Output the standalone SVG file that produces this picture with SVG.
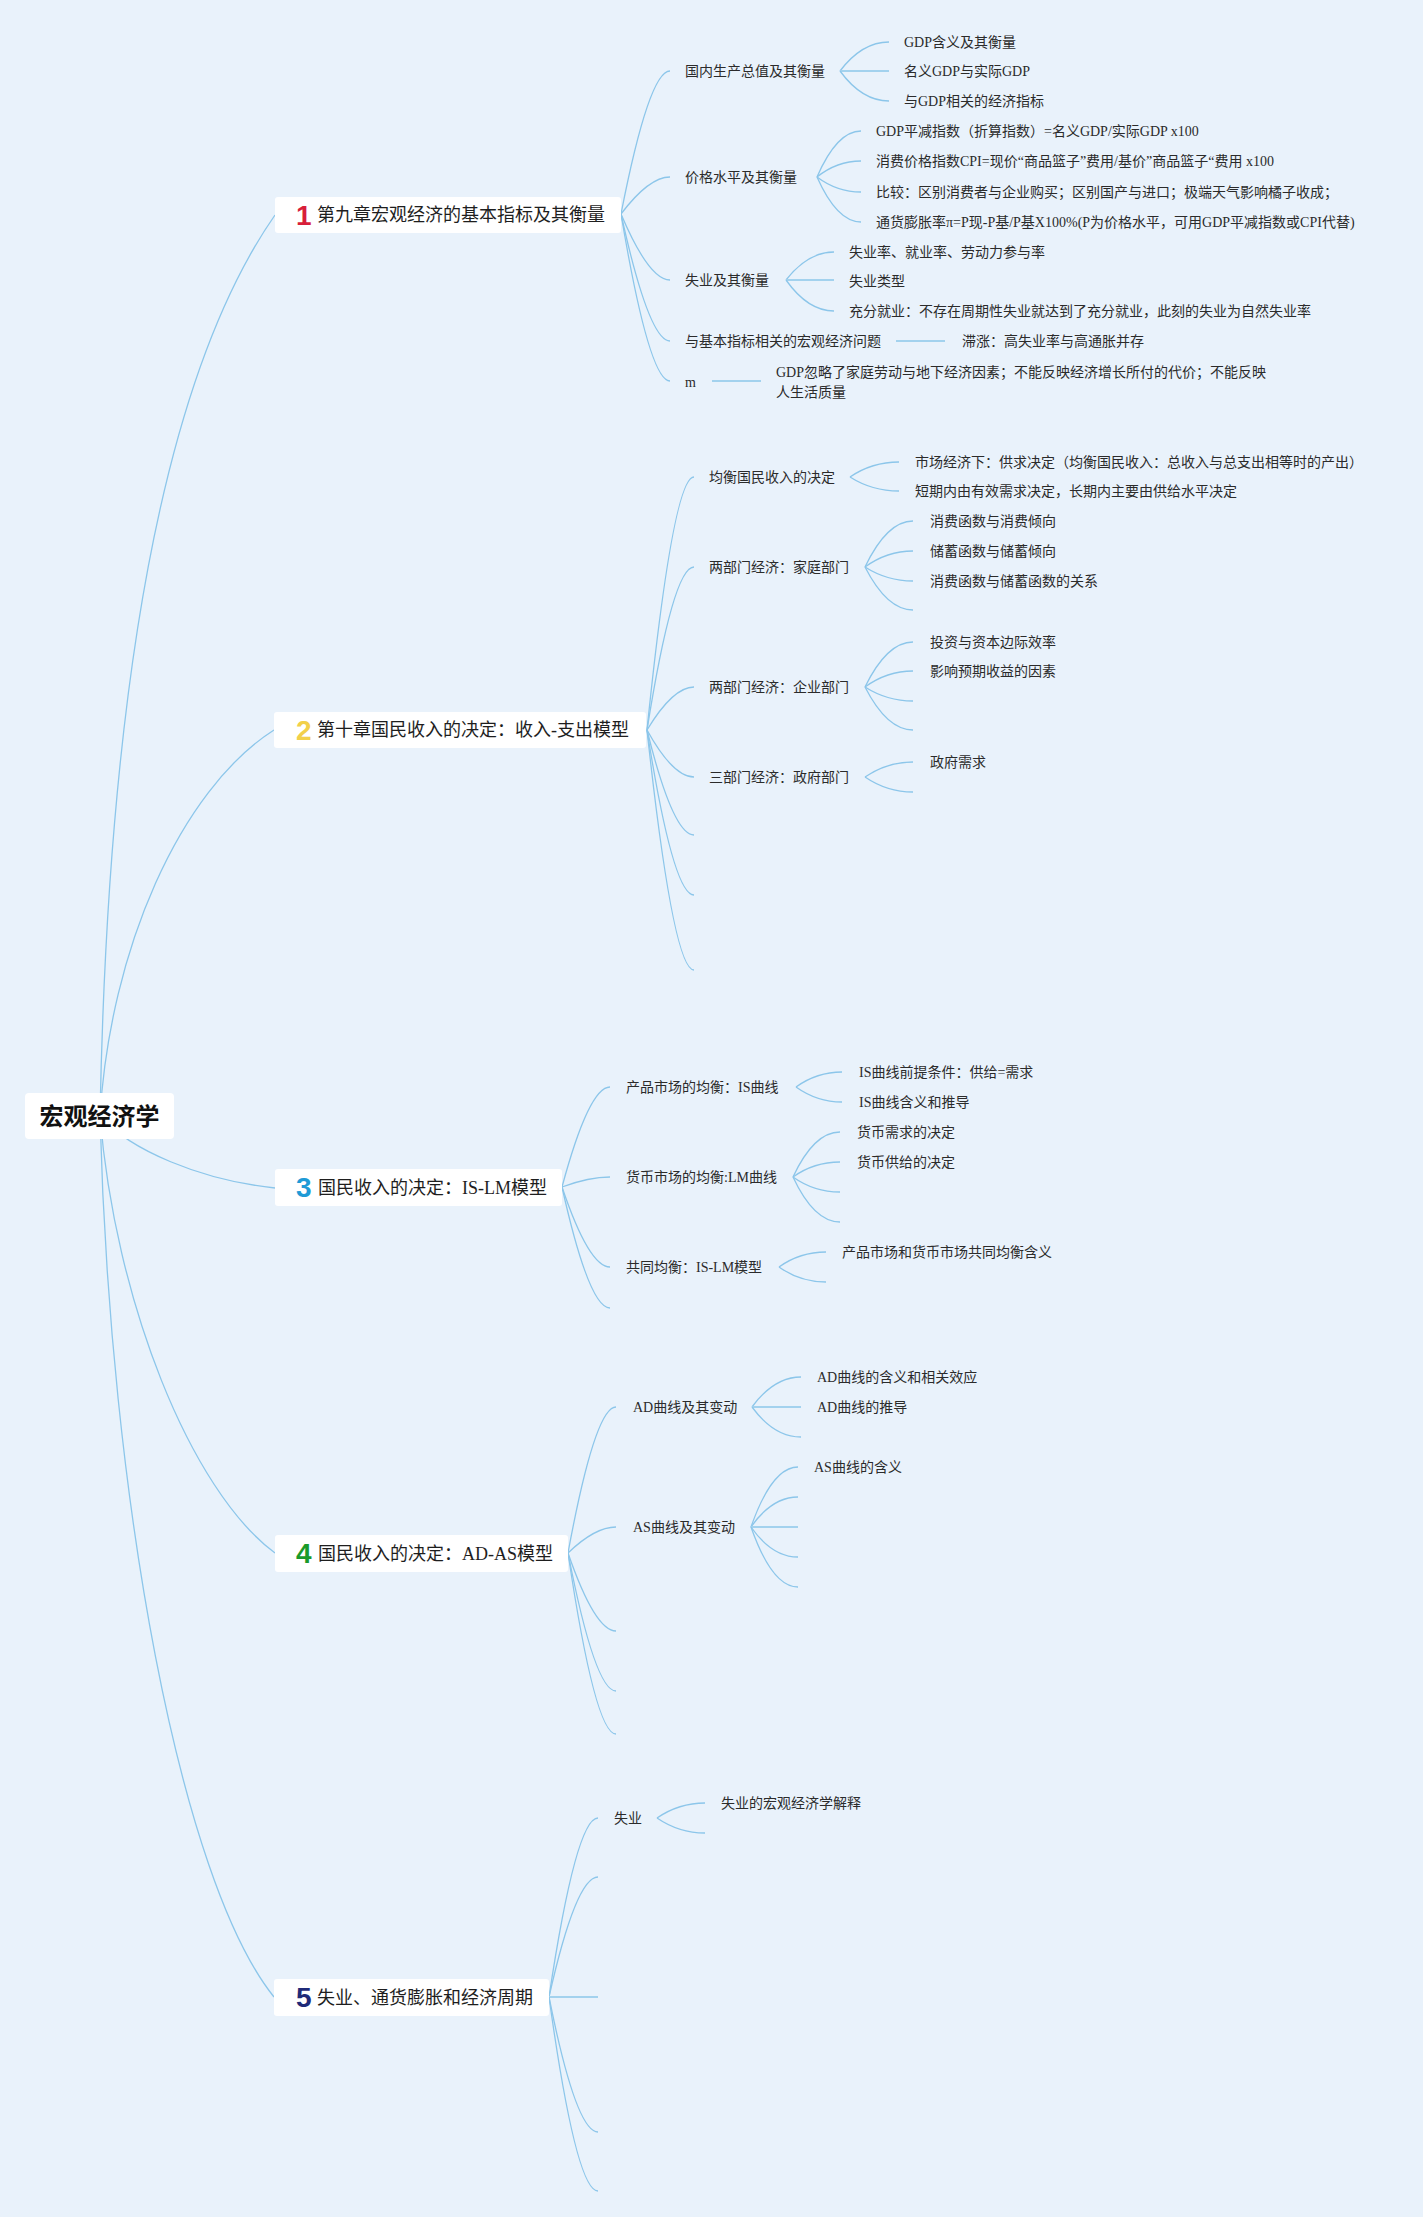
<svg xmlns="http://www.w3.org/2000/svg" width="1423" height="2217" viewBox="0 0 1423 2217">
<style>
.bg{fill:#e9f2fb}
.c{fill:none;stroke:#8cc6ea;stroke-width:1.3}
.s{fill:none;stroke:#a3d2ee;stroke-width:2.2}
.box{fill:#ffffff}
.t{font-family:"Liberation Serif","Noto Sans CJK SC",serif;font-size:14px;fill:#2b2b2b;dominant-baseline:central}
.mt{font-family:"Liberation Serif","Noto Sans CJK SC",serif;font-size:18px;fill:#1e1e1e;dominant-baseline:central}
.num{font-family:"Liberation Sans",sans-serif;font-weight:bold;font-size:28px}
.root{font-family:"Liberation Sans","Noto Sans CJK SC",sans-serif;font-weight:bold;font-size:24px;fill:#111;dominant-baseline:central;text-anchor:middle}
</style>
<rect class="bg" x="0" y="0" width="1423" height="2217"/>
<g id="connectors">
<!-- root to main -->
<path class="c" d="M100,1116 C108,700 160,380 275,215"/>
<path class="c" d="M100,1116 C110,950 180,790 274,730"/>
<path class="c" d="M100,1116 C130,1150 200,1180 275,1188"/>
<path class="c" d="M100,1116 C115,1300 190,1490 275,1553"/>
<path class="c" d="M100,1116 C110,1500 180,1880 274,1997"/>
<!-- node1 level2 -->
<path class="c" d="M621,214 Q649,71 670,71"/>
<path class="c" d="M621,214 Q649,177 670,177"/>
<path class="c" d="M621,214 Q649,280 670,280"/>
<path class="c" d="M621,214 Q649,341 670,341"/>
<path class="c" d="M621,214 Q649,381 670,381"/>
<!-- node1 level3 -->
<path class="c" d="M840,71 Q862,42 889,42"/>
<path class="s" d="M840,71 L889,71"/>
<path class="c" d="M840,71 Q862,101 889,101"/>
<path class="c" d="M817,177 Q837,131 861,131"/>
<path class="c" d="M817,177 Q837,161 861,161"/>
<path class="c" d="M817,177 Q837,192 861,192"/>
<path class="c" d="M817,177 Q837,222 861,222"/>
<path class="c" d="M786,280 Q808,252 834,252"/>
<path class="s" d="M786,280 L834,280"/>
<path class="c" d="M786,280 Q808,311 834,311"/>
<path class="s" d="M896,341 L945,341"/>
<path class="s" d="M712,381 L761,381"/>
<!-- node2 level2 -->
<path class="c" d="M647,730 Q673,477 694,477"/>
<path class="c" d="M647,730 Q673,567 694,567"/>
<path class="c" d="M647,730 Q673,687 694,687"/>
<path class="c" d="M647,730 Q673,777 694,777"/>
<path class="c" d="M647,730 Q673,835 694,835"/>
<path class="c" d="M647,730 Q673,895 694,895"/>
<path class="c" d="M647,730 Q673,970 694,970"/>
<!-- node2 level3 -->
<path class="c" d="M850,477 Q872,462 899,462"/>
<path class="c" d="M850,477 Q872,491 899,491"/>
<path class="c" d="M865,567 Q887,521 913,521"/>
<path class="c" d="M865,567 Q887,551 913,551"/>
<path class="c" d="M865,567 Q887,581 913,581"/>
<path class="c" d="M865,567 Q887,610 913,610"/>
<path class="c" d="M865,687 Q887,642 913,642"/>
<path class="c" d="M865,687 Q887,671 913,671"/>
<path class="c" d="M865,687 Q887,701 913,701"/>
<path class="c" d="M865,687 Q887,730 913,730"/>
<path class="c" d="M865,777 Q887,762 913,762"/>
<path class="c" d="M865,777 Q887,792 913,792"/>
<!-- node3 level2 -->
<path class="c" d="M562,1187 Q589,1087 610,1087"/>
<path class="c" d="M562,1187 Q589,1177 610,1177"/>
<path class="c" d="M562,1187 Q589,1267 610,1267"/>
<path class="c" d="M562,1187 Q589,1308 610,1308"/>
<!-- node3 level3 -->
<path class="c" d="M796,1087 Q817,1072 842,1072"/>
<path class="c" d="M796,1087 Q817,1102 842,1102"/>
<path class="c" d="M793,1177 Q814,1132 840,1132"/>
<path class="c" d="M793,1177 Q814,1162 840,1162"/>
<path class="c" d="M793,1177 Q814,1192 840,1192"/>
<path class="c" d="M793,1177 Q814,1222 840,1222"/>
<path class="c" d="M779,1267 Q800,1252 826,1252"/>
<path class="c" d="M779,1267 Q800,1282 826,1282"/>
<!-- node4 level2 -->
<path class="c" d="M568,1553 Q595,1407 616,1407"/>
<path class="c" d="M568,1553 Q595,1527 616,1527"/>
<path class="c" d="M568,1553 Q595,1631 616,1631"/>
<path class="c" d="M568,1553 Q595,1691 616,1691"/>
<path class="c" d="M568,1553 Q595,1734 616,1734"/>
<!-- node4 level3 -->
<path class="c" d="M752,1407 Q774,1377 801,1377"/>
<path class="s" d="M752,1407 L801,1407"/>
<path class="c" d="M752,1407 Q774,1437 801,1437"/>
<path class="c" d="M751,1527 Q772,1467 798,1467"/>
<path class="c" d="M751,1527 Q772,1497 798,1497"/>
<path class="s" d="M751,1527 L798,1527"/>
<path class="c" d="M751,1527 Q772,1557 798,1557"/>
<path class="c" d="M751,1527 Q772,1587 798,1587"/>
<!-- node5 level2 -->
<path class="c" d="M549,1997 Q576,1818 598,1818"/>
<path class="c" d="M549,1997 Q576,1877 598,1877"/>
<path class="s" d="M549,1997 L598,1997"/>
<path class="c" d="M549,1997 Q576,2132 598,2132"/>
<path class="c" d="M549,1997 Q576,2191 598,2191"/>
<!-- node5 level3 -->
<path class="c" d="M657,1818 Q679,1803 705,1803"/>
<path class="c" d="M657,1818 Q679,1833 705,1833"/>
</g>
<g id="root">
<rect class="box" x="25" y="1093" width="149" height="46" rx="4"/>
<text class="root" x="99.5" y="1116">宏观经济学</text>
</g>
<g id="node1">
<rect class="box" x="275" y="197" width="346" height="36" rx="3"/>
<text class="num" x="296" y="225" fill="#d81e3a">1</text>
<text class="mt" x="317" y="215">第九章宏观经济的基本指标及其衡量</text>
</g>
<g id="node1-children">
<text class="t" x="685" y="71">国内生产总值及其衡量</text>
<text class="t" x="904" y="42">GDP含义及其衡量</text>
<text class="t" x="904" y="71">名义GDP与实际GDP</text>
<text class="t" x="904" y="101">与GDP相关的经济指标</text>
<text class="t" x="685" y="177">价格水平及其衡量</text>
<text class="t" x="876" y="131">GDP平减指数（折算指数）=名义GDP/实际GDP x100</text>
<text class="t" x="876" y="161">消费价格指数CPI=现价“商品篮子”费用/基价”商品篮子“费用 x100</text>
<text class="t" x="876" y="192">比较：区别消费者与企业购买；区别国产与进口；极端天气影响橘子收成；</text>
<text class="t" x="876" y="222">通货膨胀率π=P现-P基/P基X100%(P为价格水平，可用GDP平减指数或CPI代替)</text>
<text class="t" x="685" y="280">失业及其衡量</text>
<text class="t" x="849" y="252">失业率、就业率、劳动力参与率</text>
<text class="t" x="849" y="281">失业类型</text>
<text class="t" x="849" y="311">充分就业：不存在周期性失业就达到了充分就业，此刻的失业为自然失业率</text>
<text class="t" x="685" y="341">与基本指标相关的宏观经济问题</text>
<text class="t" x="962" y="341">滞涨：高失业率与高通胀并存</text>
<text class="t" x="685" y="382">m</text>
<text class="t" x="776" y="372">GDP忽略了家庭劳动与地下经济因素；不能反映经济增长所付的代价；不能反映</text>
<text class="t" x="776" y="392">人生活质量</text>
</g>
<g id="node2">
<rect class="box" x="274" y="712" width="372" height="36" rx="3"/>
<text class="num" x="296" y="740" fill="#f2d04a">2</text>
<text class="mt" x="317" y="730">第十章国民收入的决定：收入-支出模型</text>
</g>
<g id="node2-children">
<text class="t" x="709" y="477">均衡国民收入的决定</text>
<text class="t" x="915" y="462">市场经济下：供求决定（均衡国民收入：总收入与总支出相等时的产出）</text>
<text class="t" x="915" y="491">短期内由有效需求决定，长期内主要由供给水平决定</text>
<text class="t" x="709" y="567">两部门经济：家庭部门</text>
<text class="t" x="930" y="521">消费函数与消费倾向</text>
<text class="t" x="930" y="551">储蓄函数与储蓄倾向</text>
<text class="t" x="930" y="581">消费函数与储蓄函数的关系</text>
<text class="t" x="709" y="687">两部门经济：企业部门</text>
<text class="t" x="930" y="642">投资与资本边际效率</text>
<text class="t" x="930" y="671">影响预期收益的因素</text>
<text class="t" x="709" y="777">三部门经济：政府部门</text>
<text class="t" x="930" y="762">政府需求</text>
</g>
<g id="node3">
<rect class="box" x="275" y="1169" width="287" height="37" rx="3"/>
<text class="num" x="296" y="1197" fill="#1e9ad6">3</text>
<text class="mt" x="318" y="1187.5">国民收入的决定：IS-LM模型</text>
</g>
<g id="node3-children">
<text class="t" x="626" y="1087">产品市场的均衡：IS曲线</text>
<text class="t" x="859" y="1072">IS曲线前提条件：供给=需求</text>
<text class="t" x="859" y="1102">IS曲线含义和推导</text>
<text class="t" x="626" y="1177">货币市场的均衡:LM曲线</text>
<text class="t" x="857" y="1132">货币需求的决定</text>
<text class="t" x="857" y="1162">货币供给的决定</text>
<text class="t" x="626" y="1267">共同均衡：IS-LM模型</text>
<text class="t" x="842" y="1252">产品市场和货币市场共同均衡含义</text>
</g>
<g id="node4">
<rect class="box" x="275" y="1535" width="293" height="37" rx="3"/>
<text class="num" x="296" y="1563" fill="#1a9a2a">4</text>
<text class="mt" x="318" y="1553.5">国民收入的决定：AD-AS模型</text>
</g>
<g id="node4-children">
<text class="t" x="633" y="1407">AD曲线及其变动</text>
<text class="t" x="817" y="1377">AD曲线的含义和相关效应</text>
<text class="t" x="817" y="1407">AD曲线的推导</text>
<text class="t" x="633" y="1527">AS曲线及其变动</text>
<text class="t" x="814" y="1467">AS曲线的含义</text>
</g>
<g id="node5">
<rect class="box" x="274" y="1979" width="275" height="37" rx="3"/>
<text class="num" x="296" y="2007" fill="#1f2a78">5</text>
<text class="mt" x="317" y="1997.5">失业、通货膨胀和经济周期</text>
</g>
<g id="node5-children">
<text class="t" x="614" y="1818">失业</text>
<text class="t" x="721" y="1803">失业的宏观经济学解释</text>
</g>
</svg>
